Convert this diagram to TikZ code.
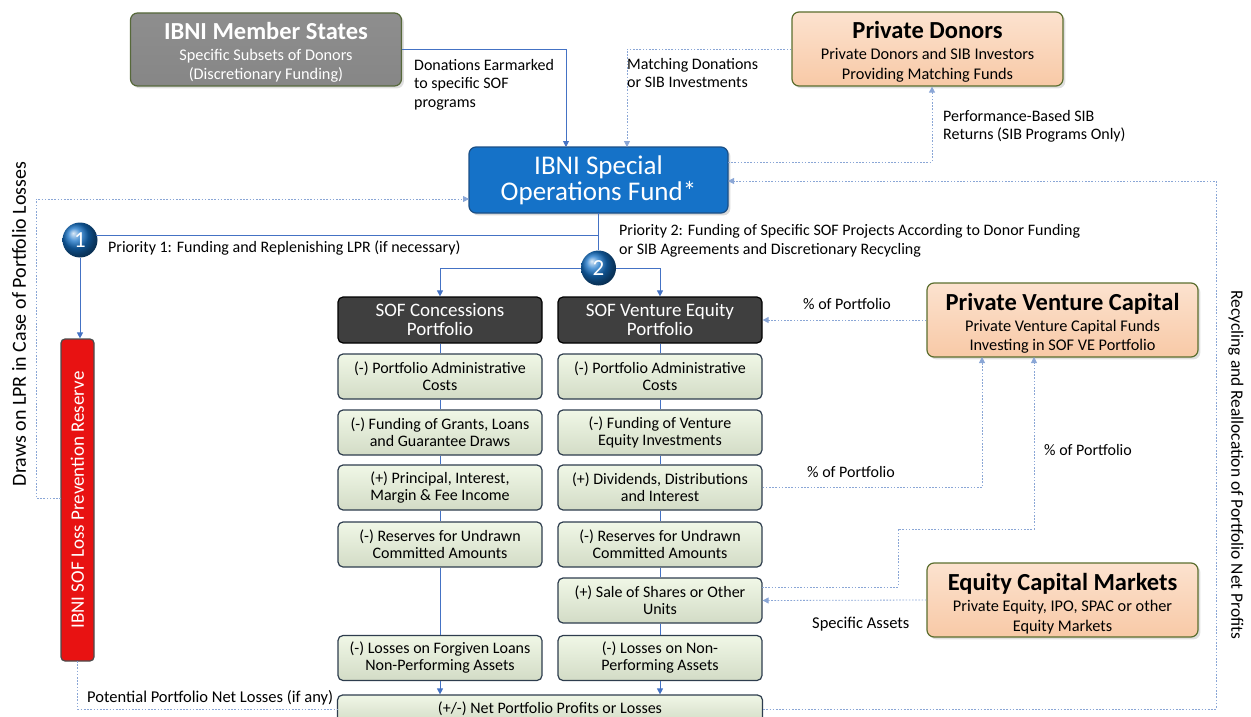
\documentclass[tikz,border=0pt]{standalone}
\usepackage{fontspec}
\setmainfont{Carlito}
\usetikzlibrary{arrows.meta,calc,shadows}

\definecolor{linkblue}{HTML}{4472C4}
\definecolor{dotblue}{HTML}{8AA6D6}
\definecolor{msgray}{HTML}{7A7A7A}
\definecolor{msedge}{HTML}{56683A}
\definecolor{peach}{HTML}{F8C9A6}
\definecolor{peachtop}{HTML}{FCE2CF}
\definecolor{peachedge}{HTML}{5B6E2E}
\definecolor{fundblue}{HTML}{1572C8}
\definecolor{fundedge}{HTML}{1B4F86}
\definecolor{hdrgray}{HTML}{3F3F3F}
\definecolor{cellfill}{HTML}{EAF4DC}
\definecolor{celledge}{HTML}{2E3D4E}
\definecolor{lprred}{HTML}{E81212}

% font size and baseline skip, both in pt
\newcommand{\fsz}[2]{\fontsize{#1}{#2}\selectfont}
% bold box title
\newcommand{\boxtitle}[1]{{\fsz{24.5}{24.5}\bfseries #1}}

\tikzset{
  box/.style={rounded corners=7pt, line width=1.2pt, align=center, inner sep=2pt},
  msbox/.style={box, draw=msedge, top color=msgray!85, bottom color=msgray!110!black,
    minimum width=271pt, minimum height=73pt, drop shadow={opacity=0.25}},
  pbox/.style={box, draw=peachedge, top color=peachtop, bottom color=peach,
    minimum width=271pt, minimum height=74pt, drop shadow={opacity=0.25}},
  boxtext/.style={align=center, inner sep=0pt, font=\fsz{16.3}{19.5}},
  fundbox/.style={box, draw=fundedge, fill=fundblue, text=white, font=\fsz{27}{26},
    minimum width=259pt, minimum height=66pt, drop shadow={opacity=0.3}},
  hdrbox/.style={box, rounded corners=5pt, draw=black, fill=hdrgray, text=white, font=\fsz{19}{19},
    minimum width=204pt, minimum height=46pt},
  cellbox/.style={box, rounded corners=5pt, draw=celledge, top color=cellfill!70!white, bottom color=cellfill!90!black,
    text=black, font=\fsz{16}{17}, minimum width=204pt, minimum height=45pt},
  lprbox/.style={box, rounded corners=4pt, draw=black!70, fill=lprred, text=white, font=\fsz{19}{19},
    minimum width=322pt, minimum height=33pt, rotate=90},
  ball/.style={circle, minimum size=35pt, inner sep=0pt, ball color=fundblue, text=white, font=\fsz{23}{23}},
  lbl/.style={font=\fsz{16}{18.5}, align=left, inner sep=0pt, text=black},
  link/.style={draw=linkblue, line width=0.9pt},
  flow/.style={link, -{Triangle[width=6pt,length=6pt]}},
  dlink/.style={draw=dotblue, line width=0.8pt, dash pattern=on 1.6pt off 1.6pt},
  dflow/.style={dlink, -{Triangle[width=6pt,length=6pt]}},
}

\begin{document}
\begin{tikzpicture}[x=1pt,y=-1pt]
\useasboundingbox (0,0) rectangle (1251,717);

% ---- sources of funding ----
\node[msbox] (ms) at (266,49.5) {};
\node[boxtext, text=white] (mst) at ($(ms.center)+(0,3)$) {\boxtitle{IBNI Member States}\\[1.5pt]Specific Subsets of Donors\\(Discretionary Funding)};
\node[pbox] (pd) at (927.5,49) {};
\node[boxtext] (pdt) at ($(pd.center)+(0,3)$) {\boxtitle{Private Donors}\\[1.5pt]Private Donors and SIB Investors\\Providing Matching Funds};

\node[fundbox] (fund) at (598.5,180) {IBNI Special\\Operations Fund*};

\coordinate (fa) at (566,147);
\coordinate (fb) at (627,147);
\draw[flow] (ms.east) -| (fa);
\draw[dflow] (pd.west) -| (fb);

\node[lbl, anchor=north west] (tdon) at (414,59) {Donations Earmarked\\to specific SOF\\programs};
\node[lbl, anchor=north west] (tmatch) at (627,58) {Matching Donations\\or SIB Investments};
\node[lbl, anchor=north west] (tperf) at (943,110) {Performance-Based SIB\\Returns (SIB Programs Only)};

% ---- priorities ----
\coordinate (fsplit) at (598.5,213);
\node[ball] (c1) at (80,240) {1};
\node[ball] (c2) at (598.5,268) {2};
\coordinate (p1) at (96,235);
\draw[link] (fsplit) |- (p1);
\draw[link] (fsplit) -- (c2.north);

\node[lbl, anchor=west] (tp1) at (108,248) {Priority 1: Funding and Replenishing LPR (if necessary)};
\node[lbl, anchor=north west, font=\fsz{16}{19.5}] (tp2) at (619,224) {Priority 2: Funding of Specific SOF Projects According to Donor Funding\\or SIB Agreements and Discretionary Recycling};

% ---- loss prevention reserve ----
\node[lprbox] (lpr) at (77.5,500) {IBNI SOF Loss Prevention Reserve};
\draw[flow] (c1.south) -- (c1.south |- lpr.east);

% ---- concessions portfolio ----
\node[hdrbox] (chdr) at (440,320) {SOF Concessions\\Portfolio};
\node[cellbox] (c1a) at (440,376.5) {(-) Portfolio Administrative\\Costs};
\node[cellbox] (c1b) at (440,432.5) {(-) Funding of Grants, Loans\\and Guarantee Draws};
\node[cellbox] (c1c) at (440,487.5) {(+) Principal, Interest,\\Margin \& Fee Income};
\node[cellbox] (c1d) at (440,544.5) {(-) Reserves for Undrawn\\Committed Amounts};
\node[cellbox] (c1e) at (440,658) {(-) Losses on Forgiven Loans\\Non-Performing Assets};

% ---- venture equity portfolio ----
\node[hdrbox] (vhdr) at (660,320) {SOF Venture Equity\\Portfolio};
\node[cellbox] (v1a) at (660,376.5) {(-) Portfolio Administrative\\Costs};
\node[cellbox] (v1b) at (660,432.5) {(-) Funding of Venture\\Equity Investments};
\node[cellbox] (v1c) at (660,487.5) {(+) Dividends, Distributions\\and Interest};
\node[cellbox] (v1d) at (660,544.5) {(-) Reserves for Undrawn\\Committed Amounts};
\node[cellbox] (v1e) at (660,600.5) {(+) Sale of Shares or Other\\Units};
\node[cellbox] (v1f) at (660,658) {(-) Losses on Non-\\Performing Assets};

\node[cellbox, minimum width=425pt, minimum height=28pt] (net) at (550,709) {(+/-) Net Portfolio Profits or Losses};

\draw[flow] (c2.west) -| (chdr.north);
\draw[flow] (c2.east) -| (vhdr.north);

\draw[link] (chdr) -- (c1a) (c1a) -- (c1b) (c1b) -- (c1c) (c1c) -- (c1d) (c1d) -- (c1e);
\draw[link] (vhdr) -- (v1a) (v1a) -- (v1b) (v1b) -- (v1c) (v1c) -- (v1d) (v1d) -- (v1e) (v1e) -- (v1f);
\draw[flow] (c1e.south) -- (c1e.south |- net.north);
\draw[flow] (v1f.south) -- (v1f.south |- net.north);

% ---- outside capital ----
\node[pbox] (pvc) at (1062.5,320) {};
\node[boxtext] (pvct) at ($(pvc.center)+(0,3.5)$) {\boxtitle{Private Venture Capital}\\[1.5pt]Private Venture Capital Funds\\Investing in SOF VE Portfolio};
\node[pbox] (ecm) at (1062.5,600) {};
\node[boxtext] (ecmt) at ($(ecm.center)+(0,3.5)$) {\boxtitle{Equity Capital Markets}\\[1.5pt]Private Equity, IPO, SPAC or other\\Equity Markets};

\draw[dflow] (pvc.west) -- (vhdr.east);
\node[lbl, anchor=west] (tpct1) at (803,304) {\% of Portfolio};

\coordinate (pv1) at (982,357);
\coordinate (pv2) at (1034,357);
\draw[dflow] (v1c.east) -| (pv1);
\node[lbl, anchor=west] (tpct2) at (807,472) {\% of Portfolio};

\coordinate (sa) at (762,587);
\coordinate (sb) at (898,587);
\coordinate (sc) at (898,529);
\draw[dflow] (sa) -- (sb) -- (sc) -| (pv2);
\node[lbl, anchor=west] (tpct3) at (1044,450) {\% of Portfolio};

\draw[dflow] (ecm.west) -- (v1e.east);
\node[lbl, anchor=west, font=\fsz{16.5}{16.5}] (tspec) at (812,624) {Specific Assets};

% ---- recycling loops ----
\coordinate (rc) at (1216,709);
\coordinate (ra) at (1216,181);
\coordinate (fr) at (728,181);
\draw[dflow] (net.east) -- (rc) -- (ra) -- (fr);

\coordinate (pa) at (728,162);
\coordinate (pj) at (932,162);
\draw[dflow] (pa) -- (pj) -- (pj |- pd.south);
\node[lbl, rotate=-90, font=\fsz{17.4}{17.4}] (trec) at (1236,465) {Recycling and Reallocation of Portfolio Net Profits};

\coordinate (da) at (61,498);
\coordinate (db) at (36,498);
\coordinate (fin) at (469,199);
\draw[dflow] (da) -- (db) |- (fin);
\node[lbl, rotate=90, font=\fsz{20}{20}] (tdraw) at (19,324) {Draws on LPR in Case of Portfolio Losses};

\coordinate (la) at (77.5,661);
\draw[dlink] (la) |- (net.west);
\node[lbl, anchor=west, font=\fsz{16.5}{16.5}] (tloss) at (87,698) {Potential Portfolio Net Losses (if any)};
\end{tikzpicture}
\end{document}
